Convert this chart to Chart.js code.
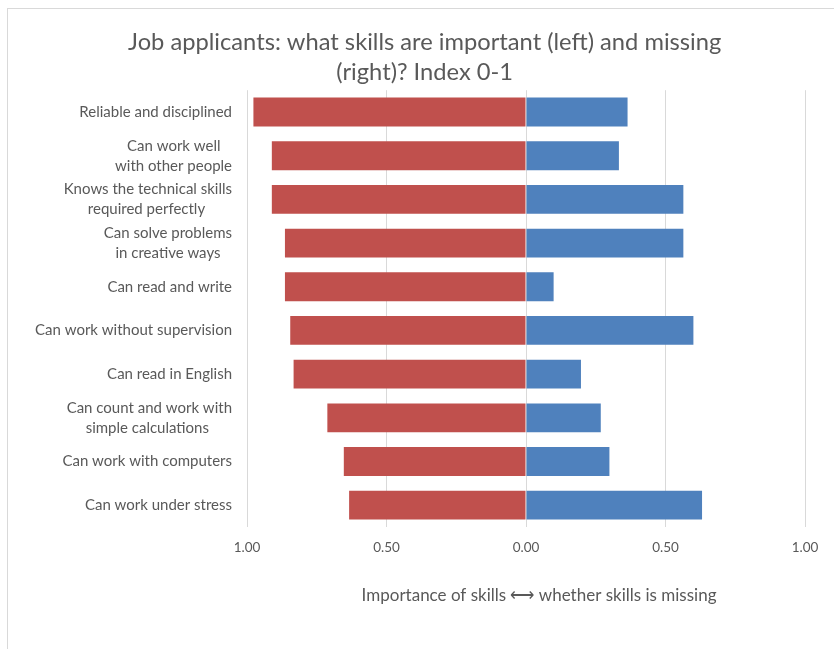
<!DOCTYPE html>
<html>
<head>
<meta charset="utf-8">
<script src="https://cdn.jsdelivr.net/npm/chart.js@4.4.1/dist/chart.umd.min.js"></script>
<style>
    html, body { margin: 0; padding: 0; background: #ffffff; overflow: hidden; }
    #box {
        position: absolute;
        left: 7px;
        top: 8px;
        width: 835px;
        height: 640px;
        border-left: 1px solid #d9d9d9;
        border-top: 1px solid #d9d9d9;
    }
</style>
</head>
<body>
<div id="box">
    <canvas id="chart" width="835" height="640"></canvas>
</div>
<script>
// Danh mục kỹ năng (nhãn nhiều dòng, khoảng trắng cuối để căn giữa dòng ngắn)
const skills = [
    'Reliable and disciplined',
    ['Can work well   ', 'with other people'],
    ['Knows the technical skills', 'required perfectly       '],
    ['Can solve problems', 'in creative ways   '],
    'Can read and write',
    'Can work without supervision',
    'Can read in English',
    ['Can count and work with', 'simple calculations      '],
    'Can work with computers',
    'Can work under stress'
];

// Mức độ quan trọng (bên trái, vẽ dưới dạng số âm)
const importance = [0.977, 0.911, 0.911, 0.864, 0.864, 0.845, 0.833, 0.712, 0.653, 0.634];

// Mức độ thiếu hụt (bên phải)
const missing = [0.364, 0.333, 0.564, 0.564, 0.099, 0.600, 0.197, 0.268, 0.299, 0.631];

const xTicks = [-1, -0.5, 0, 0.5, 1];

const titleLines = ['Job applicants: what skills are important (left) and missing', '(right)? Index 0-1'];

const textColor = '#595959';
const gridColor = '#d9d9d9';
const titleFont = { family: 'Lato', size: 23.7, weight: 'normal', lineHeight: 1.27 };

const ctx = document.getElementById('chart').getContext('2d');

// Tiêu đề căn giữa khung ngoài: thêm khoảng trắng đầu dòng (~38px) để dịch sang phải
ctx.font = titleFont.size + 'px Lato';
let lead = '';
while (ctx.measureText(lead + ' ').width <= 38) lead += ' ';
const titleText = titleLines.map(t => lead + t);

new Chart(ctx, {
    type: 'bar',
    data: {
        labels: skills,
        datasets: [
            {
                label: 'Importance',
                data: importance.map(v => -v),
                backgroundColor: '#c0504d',
                barPercentage: 0.66,
                categoryPercentage: 1
            },
            {
                label: 'Missing',
                data: missing,
                backgroundColor: '#4f81bd',
                barPercentage: 0.66,
                categoryPercentage: 1
            }
        ]
    },
    options: {
        indexAxis: 'y',
        responsive: false,
        animation: false,
        layout: {
            padding: { left: 0, right: 38, top: 0, bottom: 0 }
        },
        plugins: {
            legend: { display: false },
            tooltip: { enabled: false },
            title: {
                display: true,
                text: titleText,
                color: textColor,
                font: titleFont,
                padding: { top: 18, bottom: 3 }
            }
        },
        scales: {
            x: {
                stacked: true,
                min: -1,
                max: 1,
                afterBuildTicks: scale => {
                    scale.ticks = xTicks.map(v => ({ value: v }));
                },
                afterFit: scale => {
                    scale.height = 122;
                },
                ticks: {
                    color: textColor,
                    font: { family: 'Lato', size: 13.5 },
                    padding: 13,
                    maxRotation: 0,
                    callback: v => Math.abs(v).toFixed(2)
                },
                grid: {
                    color: gridColor,
                    lineWidth: 1,
                    drawTicks: false
                },
                border: { display: false },
                title: {
                    display: true,
                    text: '      Importance of skills \u27F7 whether skills is missing',
                    color: textColor,
                    font: { family: 'Lato', size: 17 },
                    padding: { top: 0, bottom: 43 }
                }
            },
            y: {
                stacked: true,
                afterFit: scale => {
                    scale.width = 239;
                },
                ticks: {
                    color: textColor,
                    font: { family: 'Lato', size: 15, lineHeight: 1.33 },
                    padding: 15,
                    autoSkip: false
                },
                grid: { display: false, drawTicks: false },
                border: { display: false }
            }
        }
    }
});
</script>
</body>
</html>
